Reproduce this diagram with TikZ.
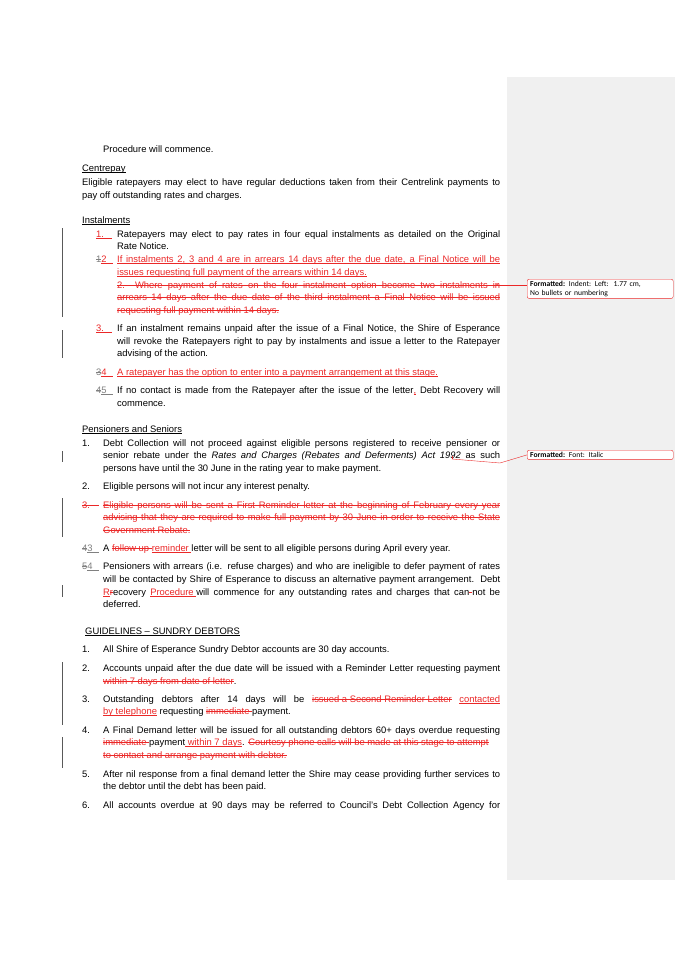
\documentclass[tikz,border=0pt]{standalone}
\usepackage{fontspec}
\setmainfont{Liberation Sans}
\newfontfamily\cmtfont{Carlito}
\usepackage{tikz}
\usetikzlibrary{positioning}
\definecolor{trk}{RGB}{235,40,40}
\definecolor{pane}{RGB}{240,240,240}
\newcommand\uln[1]{\setbox0\hbox{#1}\rlap{\rule[-1.4pt]{\wd0}{0.4pt}}\box0}
\newcommand\stk[1]{\setbox0\hbox{#1}\rlap{\rule[3pt]{\wd0}{0.4pt}}\box0}
\newcommand\ins[1]{\textcolor{trk}{\uln{#1}}}
\newcommand\del[1]{\textcolor{trk}{\stk{#1}}}
\newcommand\gdel[1]{\textcolor{gray}{\stk{#1}}}
\newcommand\txt{\fontsize{9.4}{11}\selectfont}
\newcommand\jtxt{\txt\parfillskip0pt\relax}

\begin{document}
\begin{tikzpicture}[x=1pt,y=-1pt,
    ln/.style={anchor=base west,inner sep=0pt,font=\txt},
    jw/.style={ln,text width=#1pt,align=justify,font=\jtxt},
    rd/.style={jw=#1,text=trk},
    bar/.style={line width=0.6pt,gray!70!black},
    cmt/.style={draw=trk,rounded corners=2pt,fill=white,anchor=north west,
        minimum width=146pt,inner sep=2pt,align=left,text width=140pt,
        font=\cmtfont\fontsize{7.6}{8.6}\selectfont}]
    \useasboundingbox (0,0) rectangle (675,955);
    \fill[white] (0,0) rectangle (675,955);
    \fill[pane] (507,77) rectangle (675,880);
    % centrepay
    \node[ln] (p0) at (103,153) {Procedure will commence.};
    \node[ln] (cp) at (82,171) {\uln{Centrepay}};
    \node[jw=418] (cp1) at (82,185) {Eligible ratepayers may elect to have regular deductions taken from their Centrelink payments to};
    \node[ln] (cp2) at (82,198) {pay off outstanding rates and charges.};
    % instalments
    \node[ln] (in) at (82,223) {\uln{Instalments}};
    \node[ln] at (96,237) {\ins{1.\hspace*{8pt}}};
    \node[jw=383] (in1) at (117,237) {Ratepayers may elect to pay rates in four equal instalments as detailed on the Original};
    \node[ln] at (117,249) {Rate Notice.};
    \node[ln] at (96,262) {\gdel{1}\ins{2\hspace*{6pt}}};
    \node[rd=383] (in2) at (117,262) {If instalments 2, 3 and 4 are in arrears 14 days after the due date, a Final Notice will be};
    \node[ln] at (117,275) {\ins{issues requesting full payment of the arrears within 14 days.}};
    \node[rd=383] (in2x) at (117,288) {2.\hspace*{10pt}Where payment of rates on the four instalment option become two instalments in};
    \node[rd=383] (in2y) at (117,300) {arrears 14 days after the due date of the third instalment a Final Notice will be issued};
    \node[ln] at (117,313) {\del{requesting full payment within 14 days.}};
    \node[ln] at (96,331) {\ins{3.\hspace*{8pt}}};
    \node[jw=383] (in3) at (117,331) {If an instalment remains unpaid after the issue of a Final Notice, the Shire of Esperance};
    \node[jw=383] at (117,344) {will revoke the Ratepayers right to pay by instalments and issue a letter to the Ratepayer};
    \node[ln] at (117,356) {advising of the action.};
    \node[ln] at (96,375) {\gdel{3}\ins{4\hspace*{6pt}}};
    \node[ln] (in4) at (117,375) {\ins{A ratepayer has the option to enter into a payment arrangement at this stage.}};
    \node[ln] at (96,393) {\gdel{4}\textcolor{gray}{\uln{5\hspace*{6pt}}}};
    \node[jw=383] (in5) at (117,393) {If no contact is made from the Ratepayer after the issue of the letter\ins{,} Debt Recovery will};
    \node[ln] at (117,406) {commence.};
    % pensioners
    \node[ln] (ps) at (82,432) {\uln{Pensioners and Seniors}};
    \node[ln] at (82,446) {1.};
    \node[jw=397] (ps1) at (103,446) {Debt Collection will not proceed against eligible persons registered to receive pensioner or};
    \node[jw=397] (ps1b) at (103,458) {senior rebate under the \textit{Rates and Charges (Rebates and Deferments) Act 1992} as such};
    \node[ln] at (103,471) {persons have until the 30 June in the rating year to make payment.};
    \node[ln] at (82,489) {2.};
    \node[ln] (ps2) at (103,489) {Eligible persons will not incur any interest penalty.};
    \node[ln] at (82,508) {\del{3.\hspace*{9pt}}};
    \node[rd=397] (ps3) at (103,508) {Eligible persons will be sent a First Reminder letter at the beginning of February every year};
    \node[rd=397] (ps3b) at (103,520) {advising that they are required to make full payment by 30 June in order to receive the State};
    \node[ln] at (103,533) {\del{Government Rebate.}};
    \node[ln] at (82,551) {\gdel{4}\textcolor{gray}{\uln{3\hspace*{6pt}}}};
    \node[ln] (ps4) at (103,551) {A \del{follow up }\ins{reminder }letter will be sent to all eligible persons during April every year.};
    \node[ln] at (82,569) {\gdel{5}\textcolor{gray}{\uln{4\hspace*{6pt}}}};
    \node[jw=397] (ps5) at (103,569) {Pensioners with arrears (i.e. refuse charges) and who are ineligible to defer payment of rates};
    \node[jw=397] at (103,582) {will be contacted by Shire of Esperance to discuss an alternative payment arrangement.\ \ Debt};
    \node[jw=397] at (103,595) {\ins{R}\del{r}ecovery \ins{Procedure }will commence for any outstanding rates and charges that can\del{-}not be};
    \node[ln] at (103,607) {deferred.};
    % sundry debtors
    \node[ln] (sd) at (85,634) {\uln{GUIDELINES -- SUNDRY DEBTORS}};
    \node[ln] at (82,652) {1.};
    \node[ln] (sd1) at (103,652) {All Shire of Esperance Sundry Debtor accounts are 30 day accounts.};
    \node[ln] at (82,671) {2.};
    \node[jw=397] (sd2) at (103,671) {Accounts unpaid after the due date will be issued with a Reminder Letter requesting payment};
    \node[ln] at (103,684) {\del{within 7 days from date of letter}.};
    \node[ln] at (82,702) {3.};
    \node[jw=397] (sd3) at (103,702) {Outstanding debtors after 14 days will be \del{issued a Second Reminder Letter} \ins{contacted}};
    \node[ln] at (103,714) {\ins{by telephone} requesting \del{immediate }payment.};
    \node[ln] at (82,733) {4.};
    \node[jw=397] (sd4) at (103,733) {A Final Demand letter will be issued for all outstanding debtors 60+ days overdue requesting};
    \node[ln] at (103,745) {\del{immediate }payment\ins{ within 7 days}. \del{Courtesy phone calls will be made at this stage to attempt}};
    \node[ln] at (103,758) {\del{to contact and arrange payment with debtor.}};
    \node[ln] at (82,777) {5.};
    \node[jw=397] (sd5) at (103,777) {After nil response from a final demand letter the Shire may cease providing further services to};
    \node[ln] at (103,789) {the debtor until the debt has been paid.};
    \node[ln] at (82,808) {6.};
    \node[jw=397] (sd6) at (103,808) {All accounts overdue at 90 days may be referred to Council's Debt Collection Agency for};
    % tracked lines through whole rows
    \draw[trk,line width=0.4pt] ([yshift=-1.4pt]in2.base west) -- ([yshift=-1.4pt]in2.base east);
    \foreach \n in {in2x,in2y,ps3,ps3b}
        \draw[trk,line width=0.4pt] ([yshift=3pt]\n.base west) -- ([yshift=3pt]\n.base east);
    % change bars
    \foreach \a/\b in {228/317,330/358,451/462,498/537,585/597,662/725,737/768}
        \draw[bar] (62,\a) -- (62,\b);
    % comments
    \node[cmt] (c1) at (527,279) {\textbf{Formatted:} Indent: Left:\ \ 1.77 cm,\\No bullets or numbering};
    \node[cmt] (c2) at (527,450) {\textbf{Formatted:} Font: Italic};
    \coordinate (a1) at (497,285);
    \coordinate (a2) at (452,459);
    \fill[trk] (a1) circle (1pt);
    \draw[trk,line width=0.4pt] (a1) -- (c1.west |- a1);
    \draw[trk,line width=0.4pt] (a2) -- (500,463) -- (c2.west);
    \draw[trk,line width=0.4pt] (a2) -- ++(0,-3);
\end{tikzpicture}
\end{document}
